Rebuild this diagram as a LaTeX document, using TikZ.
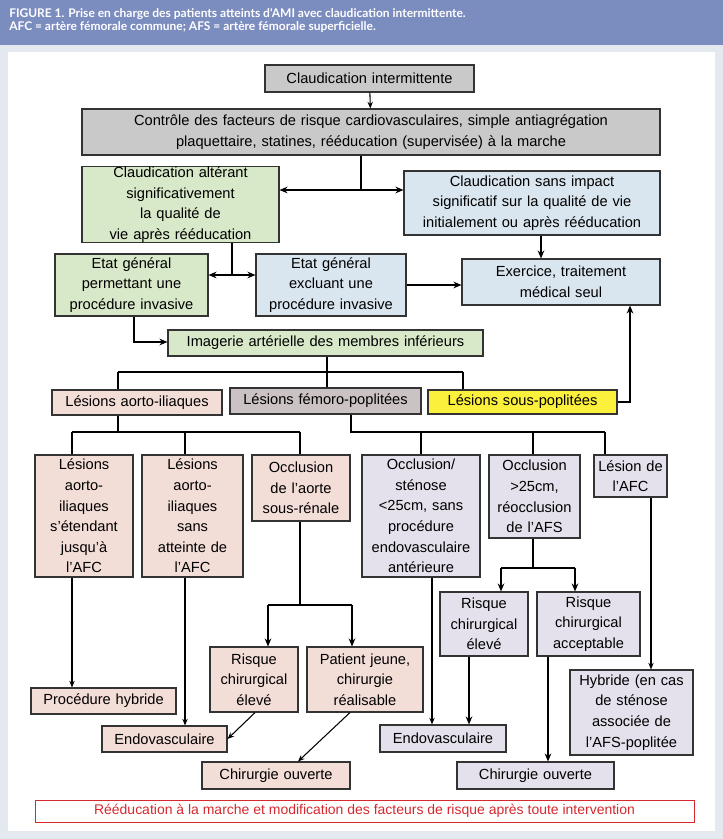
\documentclass[tikz,border=0pt]{standalone}
\usepackage{fontspec}
\setmainfont{Liberation Sans}
\newfontfamily\capfont{Lato}
\usetikzlibrary{arrows.meta}
\definecolor{hdrblue}{HTML}{7B8CBF}
\definecolor{frameg}{HTML}{E4E8EF}
\definecolor{greybox}{HTML}{C9C9C9}
\definecolor{femgrey}{HTML}{CBC3C3}
\definecolor{greenbox}{HTML}{D8E9C9}
\definecolor{bluebox}{HTML}{DAE6EF}
\definecolor{pinkbox}{HTML}{F3DDD7}
\definecolor{lavbox}{HTML}{E4E1EC}
\definecolor{yelbox}{HTML}{FBF03C}
\definecolor{notered}{HTML}{D6282E}
\def\u{0.0264cm}
% box from (x1,y1) to (x2,y2), given in pixels
\newcommand{\flowbox}[7]{%
  \node [box,fill=#6,minimum width={(#4-#2)*\u},minimum height={(#5-#3)*\u},
    text width={(#4-#2-8)*\u}] (#1) at ({(#2+#4)/2},{(#3+#5)/2}) {#7};}
\begin{document}
\begin{tikzpicture}[x=0.0264cm,y=-0.0264cm,
  box/.style={draw=black!80,line width=0.8pt,inner sep=0pt,align=center,
    font=\fontsize{11}{15.5}\selectfont},
  arr/.style={-{Stealth[length=5pt,width=4pt]},line width=0.8pt},
  tarr/.style={-{Stealth[length=6pt,width=5pt]},line width=1.8pt},
  link/.style={line width=1.8pt}]
\useasboundingbox (0,0) rectangle (723,839);
% BACKGROUND AND CAPTION
\fill [frameg] (0,0) rectangle (723,839);
\fill [white] (8,52) rectangle (715,831);
\fill [hdrblue] (0,0) rectangle (723,45);
\node [anchor=north west,align=left,text=white,inner sep=0pt,
  font=\capfont\bfseries\fontsize{9}{10}\selectfont] (cap) at (9,8)
  {FIGURE 1. Prise en charge des patients atteints d'AMI avec claudication intermittente.\\
   AFC = artère fémorale commune; AFS = artère fémorale superficielle.};
% TOP OF THE CHART
\flowbox{claud}{265}{65}{474}{92}{greybox}{Claudication intermittente}
\flowbox{ctrl}{82}{109}{660}{155}{greybox}{Contrôle des facteurs de risque cardiovasculaires, simple antiagrégation\\plaquettaire, statines, rééducation (supervisée) à la marche}
\flowbox{alt}{82}{171}{279}{238}{greenbox}{Claudication altérant\\significativement la qualité de\\vie après rééducation}
\flowbox{sans}{404}{171}{660}{235}{bluebox}{Claudication sans impact\\significatif sur la qualité de vie\\initialement ou après rééducation}
\flowbox{etatp}{55}{254}{208}{316}{greenbox}{Etat général\\permettant une\\procédure invasive}
\flowbox{etatx}{256}{254}{406}{316}{bluebox}{Etat général\\excluant une\\procédure invasive}
\flowbox{exerc}{462}{259}{660}{305}{bluebox}{Exercice, traitement\\médical seul}
\flowbox{imag}{168}{330}{483}{356}{greenbox}{Imagerie artérielle des membres inférieurs}
\flowbox{aorto}{52}{390}{222}{415}{pinkbox}{Lésions aorto-iliaques}
\flowbox{femoro}{230}{388}{421}{414}{femgrey}{Lésions fémoro-poplitées}
\flowbox{sous}{428}{390}{617}{414}{yelbox}{Lésions sous-poplitées}
% AORTO-ILIAC BRANCH
\flowbox{aiafc}{35}{455}{133}{577}{pinkbox}{Lésions\\aorto-\\iliaques\\s'étendant\\jusqu'à\\l'AFC}
\flowbox{aisans}{142}{455}{243}{577}{pinkbox}{Lésions\\aorto-\\iliaques\\sans\\atteinte de\\l'AFC}
\flowbox{occao}{252}{455}{350}{521}{pinkbox}{Occlusion\\de l'aorte\\sous-rénale}
\flowbox{riskao}{210}{647}{298}{712}{pinkbox}{Risque\\chirurgical\\élevé}
\flowbox{jeune}{307}{647}{423}{712}{pinkbox}{Patient jeune,\\chirurgie\\réalisable}
\flowbox{hybr}{31}{688}{176}{714}{pinkbox}{Procédure hybride}
\flowbox{endoao}{102}{726}{227}{752}{pinkbox}{Endovasculaire}
\flowbox{chirao}{202}{762}{350}{789}{pinkbox}{Chirurgie ouverte}
% FEMORO-POPLITEAL BRANCH
\flowbox{occc}{362}{455}{480}{577}{lavbox}{Occlusion/\\sténose\\<25cm, sans\\procédure\\endovasculaire\\antérieure}
\flowbox{occl}{489}{455}{580}{538}{lavbox}{Occlusion\\>25cm,\\réocclusion\\de l'AFS}
\flowbox{lafc}{594}{455}{667}{497}{lavbox}{Lésion de\\l'AFC}
\flowbox{riskel}{440}{592}{528}{656}{lavbox}{Risque\\chirurgical\\élevé}
\flowbox{riskac}{537}{592}{640}{656}{lavbox}{Risque\\chirurgical\\acceptable}
\flowbox{hybfem}{570}{670}{693}{755}{lavbox}{Hybride (en cas\\de sténose\\associée de\\l'AFS-poplitée}
\flowbox{endofem}{380}{725}{506}{752}{lavbox}{Endovasculaire}
\flowbox{chirfem}{457}{762}{614}{789}{lavbox}{Chirurgie ouverte}
% NOTE
\node [draw=notered,line width=0.6pt,fill=white,minimum width={659*\u},minimum height={22*\u},
  text=notered,font=\fontsize{10.5}{12}\selectfont,inner sep=0pt] (note) at (364.5,811)
  {Rééducation à la marche et modification des facteurs de risque après toute intervention};
% CONNECTORS
\draw [arr] (claud) -- (ctrl);
\draw [link] (ctrl.south -| 361,0) -- (361,190);
\draw [tarr] (361,190) -- (alt.east |- 361,190);
\draw [tarr] (361,190) -- (sans.west |- 361,190);
\draw [link] (alt.south -| 232,0) -- (232,275);
\draw [tarr] (232,275) -- (etatp.east |- 232,275);
\draw [tarr] (232,275) -- (etatx.west |- 232,275);
\draw [tarr] (sans.south -| 541,0) -- (exerc.north -| 541,0);
\draw [tarr] (etatx.east |- 0,285) -- (exerc.west |- 0,285);
\draw [tarr] (etatp.south -| 134,0) -- (134,342) -- (imag.west |- 0,342);
\draw [link] (imag.south -| 327,0) -- (327,372);
\draw [link] (118,372) -- (463,372);
\draw [link] (118,372) -- (aorto.north -| 118,0);
\draw [link] (327,372) -- (femoro.north -| 327,0);
\draw [link] (463,372) -- (sous.north -| 463,0);
\draw [tarr] (sous.east |- 0,402) -- (630,402) -- (exerc.south -| 630,0);
\draw [link] (aorto.south -| 118,0) -- (118,432);
\draw [link] (72,432) -- (300,432);
\draw [link] (72,432) -- (aiafc.north -| 72,0);
\draw [link] (185,432) -- (aisans.north -| 185,0);
\draw [link] (300,432) -- (occao.north -| 300,0);
\draw [link] (femoro.south -| 351,0) -- (351,432) -- (605,432);
\draw [link] (421,432) -- (occc.north -| 421,0);
\draw [link] (533,432) -- (occl.north -| 533,0);
\draw [link] (605,432) -- (lafc.north -| 605,0);
\draw [arr] (aiafc.south -| 72,0) -- (hybr.north -| 72,0);
\draw [arr] (aisans.south -| 185,0) -- (endoao.north -| 185,0);
\draw [link] (occao.south -| 300,0) -- (300,605);
\draw [link] (268,605) -- (352,605);
\draw [tarr] (268,605) -- (riskao.north -| 268,0);
\draw [tarr] (352,605) -- (jeune.north -| 352,0);
\draw [arr] (riskao.south -| 255,0) -- (endoao.east |- 0,739);
\draw [arr] (jeune.south -| 350,0) -- (chirao.north -| 298,0);
\draw [arr] (occc.south -| 432,0) -- (endofem.north -| 432,0);
\draw [link] (occl.south -| 533,0) -- (533,568);
\draw [link] (501,568) -- (575,568);
\draw [tarr] (501,568) -- (riskel.north -| 501,0);
\draw [tarr] (575,568) -- (riskac.north -| 575,0);
\draw [tarr] (riskel.south -| 469,0) -- (endofem.north -| 469,0);
\draw [tarr] (riskac.south -| 548,0) -- (chirfem.north -| 548,0);
\draw [arr] (lafc.south -| 651,0) -- (hybfem.north -| 651,0);
\end{tikzpicture}
\end{document}
